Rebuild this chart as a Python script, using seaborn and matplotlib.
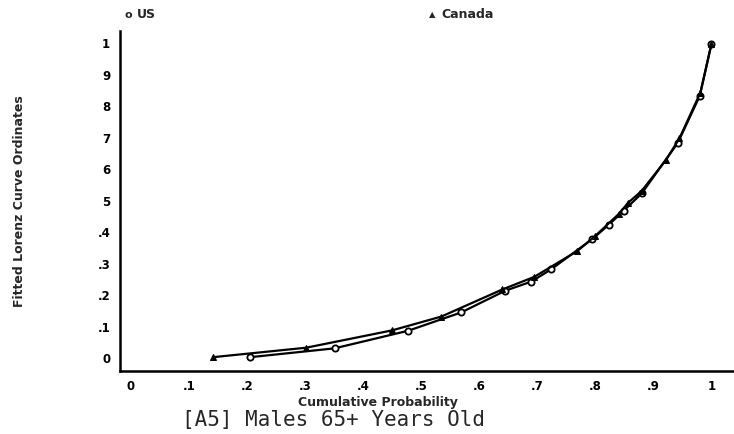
import pandas as pd
import matplotlib
matplotlib.use('Agg')
from matplotlib import pyplot as plt
import seaborn as sns

# cumulative probability / fitted Lorenz ordinate
us_p = [0.206, 0.351, 0.478, 0.569, 0.645, 0.690, 0.724, 0.795, 0.823, 0.849, 0.880, 0.942, 0.980, 1.0]
us_l = [0.000, 0.028, 0.084, 0.142, 0.211, 0.240, 0.279, 0.375, 0.420, 0.465, 0.520, 0.680, 0.830, 0.994]
ca_p = [0.142, 0.302, 0.450, 0.535, 0.640, 0.695, 0.769, 0.800, 0.840, 0.857, 0.880, 0.922, 0.945, 0.981, 1.0]
ca_l = [0.000, 0.030, 0.085, 0.129, 0.215, 0.255, 0.337, 0.385, 0.454, 0.491, 0.528, 0.627, 0.695, 0.840, 0.994]

x_ticks = [0, 0.1, 0.2, 0.3, 0.4, 0.5, 0.6, 0.7, 0.8, 0.9, 1.0]
x_labels = ['0', '.1', '.2', '.3', '.4', '.5', '.6', '.7', '.8', '.9', '1']
y_ticks = [0, 0.1, 0.2, 0.3, 0.4, 0.5, 0.6, 0.7, 0.8, 0.9, 1.0]
y_labels = ['0', '.1', '.2', '.3', '.4', '5', '6', '7', '8', '9', '1']

us = pd.DataFrame({'p': us_p, 'L': us_l})
ca = pd.DataFrame({'p': ca_p, 'L': ca_l})

sns.set_style('white')
plt.rcParams['font.family'] = ['DejaVu Sans']

fig = plt.figure(figsize=(7.34, 4.35), dpi=100)
ax = fig.add_axes([0.1635, 0.1448, 0.835, 0.7812])

sns.lineplot(data=us, x='p', y='L', ax=ax, color='black', lw=1.6, sort=False,
             estimator=None, marker='o', markersize=4.5, markerfacecolor='white',
             markeredgecolor='black', markeredgewidth=1.3)
sns.lineplot(data=ca, x='p', y='L', ax=ax, color='black', lw=1.6, sort=False,
             estimator=None, marker='^', markersize=5, markerfacecolor='black',
             markeredgecolor='black')

ax.set_xlim(-0.0186, 1.037)
ax.set_ylim(-0.044, 1.035)
ax.set_xticks(x_ticks)
ax.set_xticklabels(x_labels, fontweight='bold', fontsize=8.5)
ax.set_yticks(y_ticks)
ax.set_yticklabels(y_labels, fontweight='bold', fontsize=8.5)
ax.tick_params(direction='out', length=5, width=1.5, colors='black')
ax.tick_params(axis='x', pad=0.5)
ax.tick_params(axis='y', pad=2)
for s in ['top', 'right']:
    ax.spines[s].set_visible(False)
for s in ['left', 'bottom']:
    ax.spines[s].set_linewidth(1.8)
    ax.spines[s].set_color('black')
ax.set_xlabel('')
ax.set_ylabel('')

fig.text(378 / 734, 1 - 403 / 435, 'Cumulative Probability', ha='center', va='center',
         fontsize=9, fontweight='bold')
fig.text(333 / 734, 1 - 420 / 435, '[A5] Males 65+ Years Old', ha='center', va='center',
         fontsize=15, family='DejaVu Sans Mono')
fig.text(20 / 734, 1 - 201 / 435, 'Fitted Lorenz Curve Ordinates', ha='center', va='center',
         rotation=90, fontsize=9, fontweight='bold')

# legend across the top
fig.text(128 / 734, 1 - 15 / 435, 'o', ha='center', va='center', fontsize=8, fontweight='bold')
fig.text(137 / 734, 1 - 15 / 435, 'US', ha='left', va='center', fontsize=9, fontweight='bold')
fig.text(432 / 734, 1 - 15 / 435, '▲', ha='center', va='center', fontsize=6)
fig.text(441 / 734, 1 - 15 / 435, 'Canada', ha='left', va='center', fontsize=9, fontweight='bold')

fig.savefig('out.png', dpi=100)
